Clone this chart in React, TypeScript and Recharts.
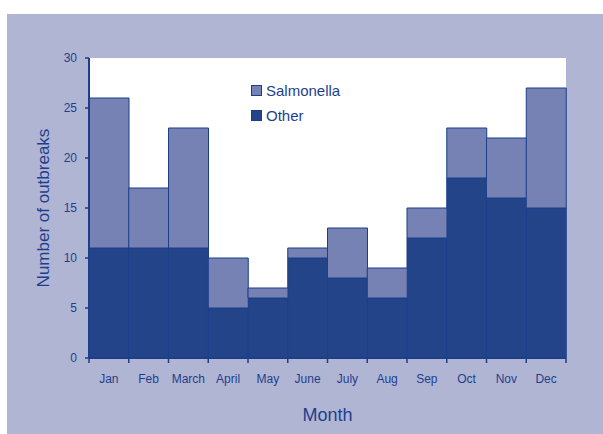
import React from "react";
import { BarChart, Bar, XAxis, YAxis, CartesianGrid, Label } from "recharts";

const months = ["Jan", "Feb", "March", "April", "May", "June", "July", "Aug", "Sep", "Oct", "Nov", "Dec"];
const other = [11, 11, 11, 5, 6, 10, 8, 6, 12, 18, 16, 15];
const salmonella = [15, 6, 12, 5, 1, 1, 5, 3, 3, 5, 6, 12];
const yTicks = [0, 5, 10, 15, 20, 25, 30];

const data = months.map((m, i) => ({ month: m, other: other[i], salmonella: salmonella[i] }));

const W = 603;
const H = 434;
const margin = { top: 58, right: 37, bottom: 6, left: 29 };
const yAxisW = 60;
const plotW = W - margin.left - margin.right - yAxisW;
const band = plotW / months.length;

const navy = "#1d3f8a";
const textColor = "#1e3f8c";
const font = "'Liberation Sans', Arial, sans-serif";

function MonthTick(props: any) {
  const { x, y, payload, index } = props;
  const left = x - band / 2;
  return (
    <g>
      <line x1={left} y1={y - 8} x2={left} y2={y - 3} stroke={navy} strokeWidth={1.5} />
      {index === months.length - 1 && (
        <line x1={x + band / 2} y1={y - 8} x2={x + band / 2} y2={y - 3} stroke={navy} strokeWidth={1.5} />
      )}
      <text x={x} y={y + 17} textAnchor="middle" fill={textColor} fontSize={12} fontFamily={font}>
        {payload.value}
      </text>
    </g>
  );
}

function LegendBox() {
  const items = [
    { name: "Salmonella", color: "#7681b4" },
    { name: "Other", color: "#24448a" },
  ];
  return (
    <div style={{ position: "absolute", left: 251, top: 78, fontFamily: font }}>
      {items.map((it) => (
        <div key={it.name} style={{ display: "flex", alignItems: "center", height: 25 }}>
          <span
            style={{
              display: "inline-block",
              width: 9,
              height: 9,
              background: it.color,
              border: `1px solid ${navy}`,
              marginRight: 4,
            }}
          />
          <span style={{ color: textColor, fontSize: 15 }}>{it.name}</span>
        </div>
      ))}
    </div>
  );
}

export default function App() {
  return (
    <div style={{ position: "fixed", left: 0, top: 0, width: W, height: H, background: "#fff" }}>
      <div style={{ position: "absolute", left: 7, top: 14, right: 0, bottom: 0, background: "#b0b5d4" }} />
      <div style={{ position: "absolute", left: 0, top: 0 }}>
        <BarChart width={W} height={H} data={data} margin={margin} barCategoryGap={0}>
          <CartesianGrid horizontal={false} vertical={false} fill="#ffffff" />
          <XAxis
            dataKey="month"
            height={70}
            axisLine={{ stroke: navy, strokeWidth: 2 }}
            tickLine={false}
            tick={<MonthTick />}
            interval={0}
          >
            <Label
              value="Month"
              position="insideBottom"
              offset={7}
              fill={textColor}
              fontSize={18}
              fontFamily={font}
            />
          </XAxis>
          <YAxis
            width={yAxisW}
            domain={[0, 30]}
            ticks={yTicks}
            interval={0}
            axisLine={{ stroke: navy, strokeWidth: 2 }}
            tickLine={{ stroke: navy, strokeWidth: 1.5 }}
            tickSize={4}
            tickMargin={8}
            tick={{ fill: textColor, fontSize: 12, fontFamily: font }}
          >
            <Label
              value="Number of outbreaks"
              angle={-90}
              position="insideLeft"
              offset={14}
              fill={textColor}
              fontSize={17}
              fontFamily={font}
              style={{ textAnchor: "middle" }}
            />
          </YAxis>
          <Bar dataKey="other" stackId="a" fill="#24448a" stroke={navy} strokeWidth={1} isAnimationActive={false} />
          <Bar dataKey="salmonella" stackId="a" fill="#7681b4" stroke={navy} strokeWidth={1} isAnimationActive={false} />
        </BarChart>
      </div>
      <LegendBox />
    </div>
  );
}
